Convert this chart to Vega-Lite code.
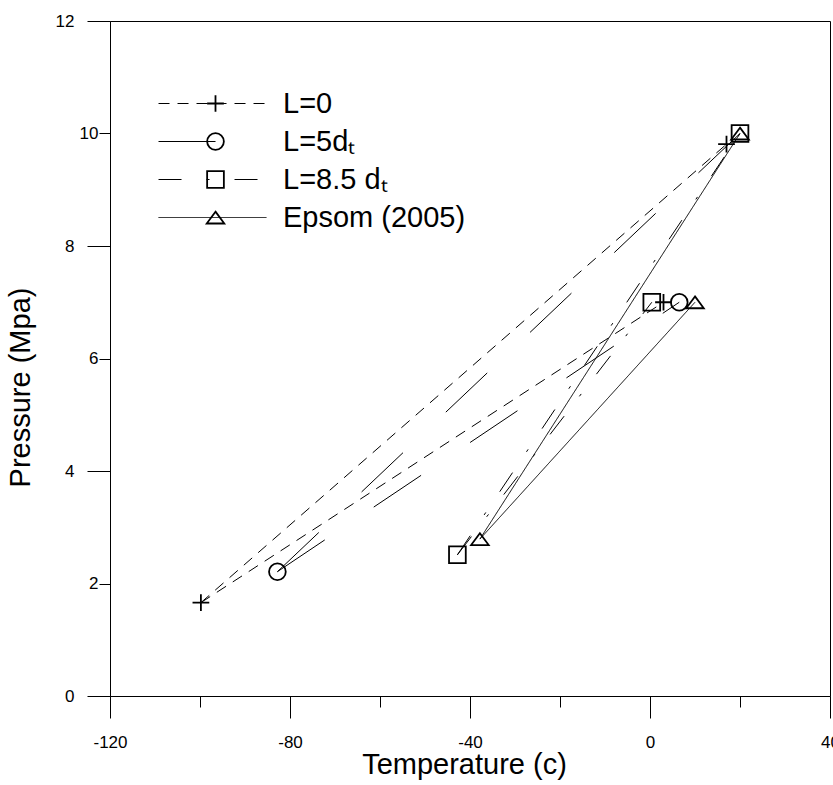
{
  "$schema": "https://vega.github.io/schema/vega-lite/v6.json",
  "width": 720,
  "height": 675,
  "autosize": "none",
  "padding": {"left": 110, "top": 21, "right": 3, "bottom": 89},
  "background": "white",
  "config": {
    "font": "Liberation Sans",
    "view": {"stroke": "black", "strokeWidth": 1},
    "axis": {
      "grid": false,
      "domainColor": "black",
      "tickColor": "black",
      "labelColor": "black",
      "titleColor": "black",
      "labelFontSize": 17,
      "titleFontSize": 29,
      "titleFontWeight": "normal",
      "labelFlush": false,
      "labelOverlap": false,
      "labelBound": false
    }
  },
  "datasets": {
    "lines": [
      {"series": "L=0", "seg": "top", "i": 0, "T": -99.8, "P": 1.66},
      {"series": "L=0", "seg": "top", "i": 1, "T": 17, "P": 9.81},
      {"series": "L=0", "seg": "mid", "i": 0, "T": -99.8, "P": 1.66},
      {"series": "L=0", "seg": "mid", "i": 1, "T": 3, "P": 7.0},
      {"series": "L=5dₜ", "seg": "top", "i": 0, "T": -82.8, "P": 2.21},
      {"series": "L=5dₜ", "seg": "top", "i": 1, "T": 20, "P": 10},
      {"series": "L=5dₜ", "seg": "mid", "i": 0, "T": -82.8, "P": 2.21},
      {"series": "L=5dₜ", "seg": "mid", "i": 1, "T": 6.5, "P": 7.0},
      {"series": "L=8.5 dₜ", "seg": "top", "i": 0, "T": -42.8, "P": 2.51},
      {"series": "L=8.5 dₜ", "seg": "top", "i": 1, "T": 20, "P": 10},
      {"series": "L=8.5 dₜ", "seg": "mid", "i": 0, "T": -42.8, "P": 2.51},
      {"series": "L=8.5 dₜ", "seg": "mid", "i": 1, "T": 0.4, "P": 7.0},
      {"series": "Epsom (2005)", "seg": "top", "i": 0, "T": -37.8, "P": 2.79},
      {"series": "Epsom (2005)", "seg": "top", "i": 1, "T": 20, "P": 10},
      {"series": "Epsom (2005)", "seg": "mid", "i": 0, "T": -37.8, "P": 2.79},
      {"series": "Epsom (2005)", "seg": "mid", "i": 1, "T": 10, "P": 7.0}
    ],
    "points": [
      {"series": "L=0", "T": -99.8, "P": 1.66},
      {"series": "L=0", "T": 17, "P": 9.81},
      {"series": "L=0", "T": 3, "P": 7.0},
      {"series": "L=5dₜ", "T": -82.8, "P": 2.21},
      {"series": "L=5dₜ", "T": 6.5, "P": 7.0},
      {"series": "L=8.5 dₜ", "T": -42.8, "P": 2.51},
      {"series": "L=8.5 dₜ", "T": 20, "P": 10},
      {"series": "L=8.5 dₜ", "T": 0.4, "P": 7.0},
      {"series": "Epsom (2005)", "T": -37.8, "P": 2.79},
      {"series": "Epsom (2005)", "T": 20, "P": 10},
      {"series": "Epsom (2005)", "T": 10, "P": 7.0}
    ]
  },
  "layer": [
    {
      "data": {"name": "lines"},
      "mark": {"type": "line", "color": "black", "strokeWidth": 1},
      "encoding": {
        "x": {
          "field": "T", "type": "quantitative",
          "scale": {"domain": [-120, 40], "nice": false, "zero": false},
          "axis": {
            "values": [-120, -100, -80, -60, -40, -20, 0, 20, 40],
            "labelExpr": "datum.value % 40 === 0 ? '' + datum.value : ''",
            "tickSize": {"condition": {"test": "datum.value % 40 === 0", "value": 22}, "value": 11},
            "labelPadding": 16,
            "title": "Temperature (c)",
            "titleX": 354,
            "titleY": 77,
            "titleBaseline": "alphabetic"
          }
        },
        "y": {
          "field": "P", "type": "quantitative",
          "scale": {"domain": [0, 12], "nice": false, "zero": false},
          "axis": {
            "values": [0, 2, 4, 6, 8, 10, 12],
            "format": "d",
            "tickSize": {"condition": {"test": "datum.value % 4 === 0", "value": 23}, "value": 11},
            "labelPadding": {"condition": {"test": "datum.value % 4 === 0", "value": 13}, "value": 1},
            "title": "Pressure (Mpa)",
            "titleX": -81,
            "titleY": 366,
            "titleBaseline": "alphabetic"
          }
        },
        "detail": {"field": "seg", "type": "nominal"},
        "order": {"field": "i", "type": "quantitative"},
        "strokeDash": {
          "field": "series", "type": "nominal",
          "sort": ["L=0", "L=5dₜ", "L=8.5 dₜ", "Epsom (2005)"],
          "scale": {"range": [[11, 8], [57, 59], [23, 25, 3, 25], [1, 0]]},
          "legend": {
            "orient": "none", "legendX": 91, "legendY": 68, "title": null,
            "symbolType": "M-6.81,0H6.09", "symbolSize": 280,
            "symbolStrokeWidth": 1, "symbolStrokeColor": "black",
            "labelFontSize": 29, "labelOffset": 53, "labelColor": "black",
            "rowPadding": 8, "padding": 0, "labelLimit": 400
          }
        }
      }
    },
    {
      "data": {"name": "points"},
      "mark": {"type": "point", "filled": false, "stroke": "black", "strokeWidth": 1.8, "size": 280, "opacity": 1},
      "encoding": {
        "x": {"field": "T", "type": "quantitative"},
        "y": {"field": "P", "type": "quantitative"},
        "shape": {
          "field": "series", "type": "nominal",
          "sort": ["L=0", "L=5dₜ", "L=8.5 dₜ", "Epsom (2005)"],
          "scale": {"range": ["M-1,0H1M0,-1V1", "circle", "square", "M0,-0.7L1.05,0.72L-1.05,0.72Z"]},
          "legend": {
            "orient": "none", "legendX": 91, "legendY": 68, "title": null,
            "symbolSize": 280, "symbolStrokeWidth": 1.8, "symbolStrokeColor": "black",
            "symbolFillColor": "transparent",
            "labelFontSize": 29, "labelOffset": 53, "labelOpacity": 0,
            "rowPadding": 8, "padding": 0, "labelLimit": 400
          }
        }
      }
    }
  ]
}
